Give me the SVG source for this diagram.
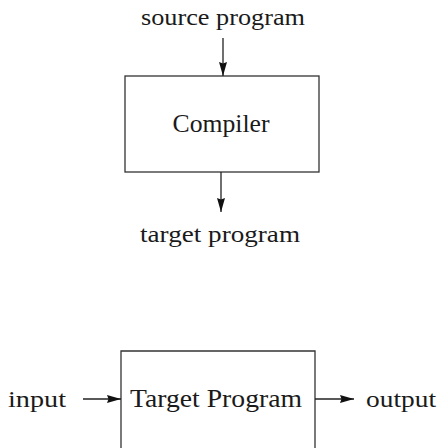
<svg xmlns="http://www.w3.org/2000/svg" width="442" height="448" viewBox="0 0 442 448">
<style>
text{font-family:"Liberation Serif","DejaVu Serif",serif;fill:#1a1a1a;}
.box{fill:none;stroke:#333;stroke-width:1.3;}
.conn{fill:none;stroke:#222;stroke-width:1.3;}
</style>
<defs>
<marker id="ah" viewBox="0 0 14 8" refX="14" refY="4" markerWidth="14" markerHeight="8" markerUnits="userSpaceOnUse" orient="auto">
<path d="M0,0 L14,4 L0,8 L1.5,4 Z" fill="#111"/>
</marker>
</defs>
<rect width="442" height="448" fill="#fff"/>
<g id="source-label"><text x="223" y="25" font-size="23" text-anchor="middle" textLength="164" lengthAdjust="spacingAndGlyphs">source program</text></g>
<g id="compiler">
<rect class="box" x="125" y="76" width="194" height="96"/>
<text x="221" y="132" font-size="25" text-anchor="middle" textLength="97" lengthAdjust="spacingAndGlyphs">Compiler</text>
</g>
<g id="target-label"><text x="220" y="242" font-size="23" text-anchor="middle" textLength="160" lengthAdjust="spacingAndGlyphs">target program</text></g>
<g id="target-program">
<path class="box" d="M121,460 V351 H315 V460"/>
<text x="216" y="407" font-size="25" text-anchor="middle" textLength="172" lengthAdjust="spacingAndGlyphs">Target Program</text>
</g>
<g id="input-label"><text x="8" y="407" font-size="23" textLength="58" lengthAdjust="spacingAndGlyphs">input</text></g>
<g id="output-label"><text x="366" y="407" font-size="23" textLength="70" lengthAdjust="spacingAndGlyphs">output</text></g>
<g id="connectors">
<line class="conn" x1="223" y1="38" x2="223" y2="76" marker-end="url(#ah)"/>
<line class="conn" x1="221" y1="172" x2="221" y2="212" marker-end="url(#ah)"/>
<line class="conn" x1="83" y1="399" x2="121" y2="399" marker-end="url(#ah)"/>
<line class="conn" x1="315" y1="399" x2="354" y2="399" marker-end="url(#ah)"/>
</g>
</svg>
